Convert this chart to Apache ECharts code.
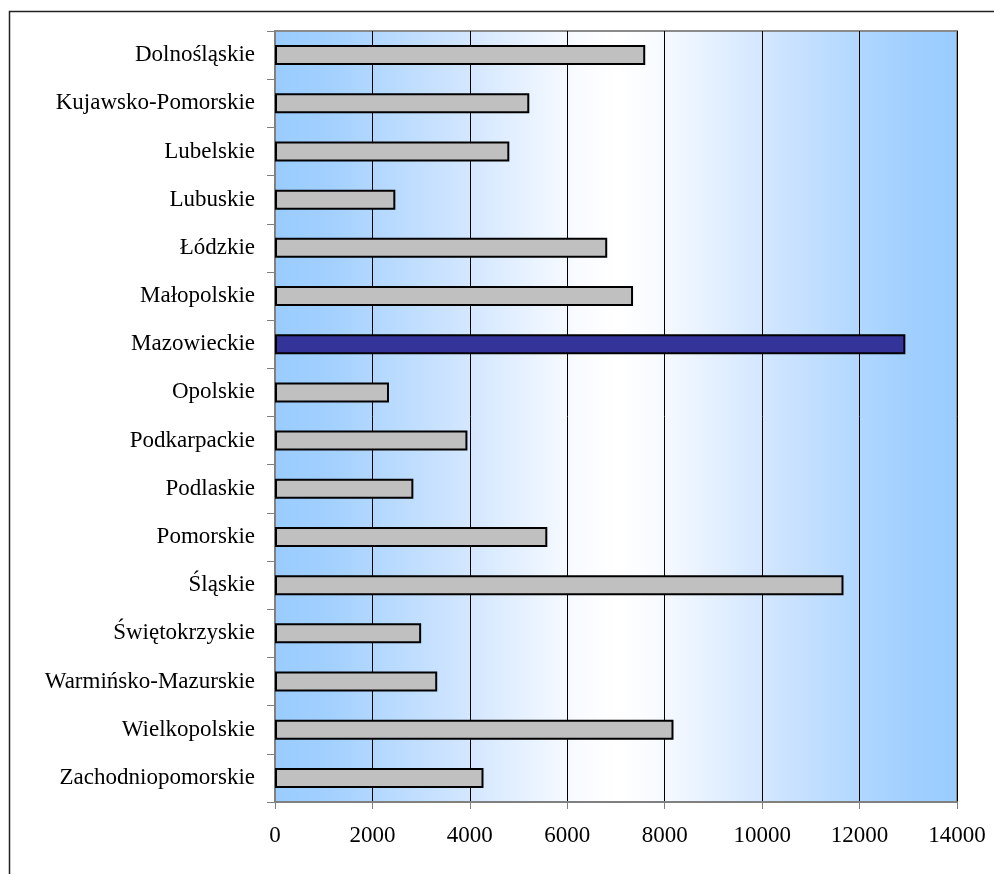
<!DOCTYPE html>
<html>
<head>
<meta charset="utf-8">
<script src="https://cdn.jsdelivr.net/npm/echarts@6/dist/echarts.min.js"></script>
<style>html,body{margin:0;padding:0;background:#fff}#c{width:994px;height:874px}</style>
</head>
<body>
<div id="c"></div>
<script>
var categories = ["Dolnośląskie","Kujawsko-Pomorskie","Lubelskie","Lubuskie","Łódzkie","Małopolskie","Mazowieckie","Opolskie","Podkarpackie","Podlaskie","Pomorskie","Śląskie","Świętokrzyskie","Warmińsko-Mazurskie","Wielkopolskie","Zachodniopomorskie"];
var values = [7600,5220,4810,2470,6820,7350,12940,2340,3950,2840,5590,11670,3000,3330,8180,4280];
var highlighted = "Mazowieckie";
var xTicks = [0,2000,4000,6000,8000,10000,12000,14000];

var chart = echarts.init(document.getElementById('c'), null, {renderer:'canvas'});
var font = '"Liberation Serif","Times New Roman",serif';
var data = values.map(function(v,i){
  return {value:v, itemStyle:{color: categories[i]===highlighted ? '#333399' : '#c0c0c0'}};
});
chart.setOption({
  backgroundColor:'#ffffff',
  animation:false,
  graphic:[{type:'rect', shape:{x:9.5,y:11.5,width:1100,height:1000}, style:{fill:'none',stroke:'#222',lineWidth:1.5}, z:-1}],
  grid:{left:275,right:37,top:31,bottom:72,show:true,borderColor:'#8a8a8a',borderWidth:2,
    backgroundColor:new echarts.graphic.LinearGradient(0,0,1,0,[
      {offset:0,color:'#99ccff'},{offset:0.08,color:'#a2d0ff'},{offset:0.28,color:'#d2e6ff'},
      {offset:0.44,color:'#f8fbff'},{offset:0.5,color:'#ffffff'},{offset:0.56,color:'#f8fbff'},
      {offset:0.72,color:'#d2e6ff'},{offset:0.92,color:'#a2d0ff'},{offset:1,color:'#99ccff'}])},
  xAxis:{type:'value',min:xTicks[0],max:xTicks[xTicks.length-1],interval:2000,
    axisLine:{show:true,lineStyle:{color:'#808080',width:2}},
    axisTick:{show:true,length:7,lineStyle:{color:'#808080',width:1}},
    splitLine:{show:true,lineStyle:{color:'#000',width:1}},
    axisLabel:{color:'#000',fontFamily:font,fontSize:23,margin:22,showMaxLabel:true,showMinLabel:true,
      formatter:function(v){return String(v);}}},
  yAxis:{type:'category',data:categories,inverse:true,
    axisLine:{show:true,lineStyle:{color:'#808080',width:2}},
    axisTick:{show:true,length:8,alignWithLabel:false,lineStyle:{color:'#808080',width:1}},
    axisLabel:{color:'#000',fontFamily:font,fontSize:23,margin:20}},
  series:[{type:'bar',data:data,barWidth:20,
    itemStyle:{borderColor:'#000',borderWidth:2}}]
});
</script>
</body>
</html>
